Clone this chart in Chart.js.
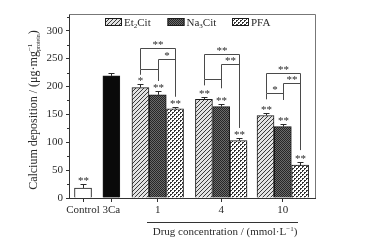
<!DOCTYPE html>
<html>
<head>
<meta charset="utf-8">
<script src="https://cdn.jsdelivr.net/npm/chart.js@4/dist/chart.umd.min.js"></script>
<style>
  html, body { margin: 0; padding: 0; background: #fff; }
  canvas { display: block; }
</style>
</head>
<body>
<canvas id="c" width="374" height="249"></canvas>
<script>
// x positions in bar-width units: Control, 3Ca, group 1, group 4, group 10
var xPos = [0.81, 2.45, 5.13, 8.8, 12.36];
var xLabels = ["Control", "3Ca", "1", "4", "10"];
var xMax = 14.22;

// single bars
var singleVals = [18, 219];
var singleErr = [8, 6];
var singleStars = ["**", ""];

// drug groups (mmol/L)
var groups = ["1", "4", "10"];
var et2cit = [198, 177, 148];
var et2citErr = [6, 5, 4];
var et2citStars = ["*", "**", "**"];
var na3cit = [185, 164, 128];
var na3citErr = [7, 5, 5];
var na3citStars = ["**", "**", "**"];
var pfa = [160, 103, 59];
var pfaErr = [4, 4, 5];
var pfaStars = ["**", "**", "**"];

var yTicks = [0, 50, 100, 150, 200, 250, 300];

// significance brackets: [group, fromSeries, toSeries, level, leftEnd, rightEnd, label]
var brackets = [
	[0, 0, 1, 231, 221, 210, ""],
	[0, 1, 2, 249, 210, 182, "*"],
	[0, 0, 2, 269, 231, 182, "**"],
	[1, 0, 1, 213, 202, 197, ""],
	[1, 1, 2, 241, 197, 126, "**"],
	[1, 0, 2, 258, 213, 126, "**"],
	[2, 0, 1, 188, 177, 176, "*"],
	[2, 1, 2, 207, 176, 86, "**"],
	[2, 0, 2, 224, 188, 86, "**"]
];

var SERIF = "'Liberation Serif', 'DejaVu Serif', serif";
var INK = "#2a2a2a";

function makePattern(kind) {
	var t = document.createElement("canvas");
	var g = t.getContext("2d");
	if (kind == "hatch") {
		t.width = 4; t.height = 4;
		g.fillStyle = "#e2e2e2"; g.fillRect(0, 0, 4, 4);
		g.strokeStyle = "#3a3a3a"; g.lineWidth = 1;
		g.beginPath();
		g.moveTo(-1, 5); g.lineTo(5, -1);
		g.moveTo(-1, 1); g.lineTo(1, -1);
		g.moveTo(3, 5); g.lineTo(5, 3);
		g.stroke();
	} else if (kind == "dark") {
		t.width = 2; t.height = 2;
		g.fillStyle = "#6a6a6a"; g.fillRect(0, 0, 2, 2);
		g.fillStyle = "#262626"; g.fillRect(0, 0, 1, 1); g.fillRect(1, 1, 1, 1);
	} else {
		t.width = 4; t.height = 4;
		g.fillStyle = "#ffffff"; g.fillRect(0, 0, 4, 4);
		g.fillStyle = "#333333";
		g.fillRect(0, 0, 1, 1); g.fillRect(2, 2, 1, 1);
		g.fillRect(1, 0, 1, 1); g.fillRect(0, 1, 1, 1);
		g.fillRect(3, 2, 1, 1); g.fillRect(2, 3, 1, 1);
	}
	return g.createPattern(t, "repeat");
}

var pats = [makePattern("hatch"), makePattern("dark"), makePattern("check")];
var seriesVals = [et2cit, na3cit, pfa];
var seriesErr = [et2citErr, na3citErr, pfaErr];
var seriesStars = [et2citStars, na3citStars, pfaStars];
var seriesNames = ["Et2Cit", "Na3Cit", "PFA"];

function groupX(g, s) { return xPos[2 + g] + (s - 1); }

var datasets = [
	{label: "Control", data: [{x: xPos[0], y: singleVals[0]}], backgroundColor: "#ffffff"},
	{label: "3Ca", data: [{x: xPos[1], y: singleVals[1]}], backgroundColor: "#0a0a0a"}
];
seriesVals.forEach((vals, s) => {
	datasets.push({
		label: seriesNames[s],
		data: vals.map((v, g) => ({x: groupX(g, s), y: v})),
		backgroundColor: pats[s]
	});
});
datasets.forEach(d => { d.borderColor = "#1a1a1a"; d.borderWidth = 1; d.barThickness = 17; d.grouped = false; });

// draw text with super/subscript parts: parts = [[text, size, dy, "stack"?], ...]
function drawRich(ctx, parts, x, y) {
	var cx = x, stackX = null, maxW = 0;
	parts.forEach(p => {
		ctx.font = p[1] + "px " + SERIF;
		var w = ctx.measureText(p[0]).width;
		if (p[3] == "stack") {
			if (stackX == null) { stackX = cx; maxW = 0; }
			ctx.fillText(p[0], stackX, y + p[2]);
			maxW = Math.max(maxW, w);
			cx = stackX + maxW;
		} else {
			stackX = null;
			ctx.fillText(p[0], cx, y + p[2]);
			cx += w;
		}
	});
	return cx - x;
}
function richWidth(parts) {
	var c = document.createElement("canvas").getContext("2d");
	return drawRich(c, parts, 0, 0);
}

var overlay = {
	id: "overlay",
	afterDatasetsDraw(chart) {
		var ctx = chart.ctx, xs = chart.scales.x, ys = chart.scales.y, ca = chart.chartArea;
		ctx.save();
		ctx.strokeStyle = "#2a2a2a";
		ctx.fillStyle = INK;
		ctx.lineWidth = 1;
		ctx.textAlign = "center";
		ctx.textBaseline = "alphabetic";

		function errBar(xv, v, e, star) {
			var x = Math.round(xs.getPixelForValue(xv)) + 0.5;
			var y1 = ys.getPixelForValue(v), y2 = Math.round(ys.getPixelForValue(v + e)) + 0.5;
			ctx.beginPath();
			ctx.moveTo(x, y1); ctx.lineTo(x, y2);
			ctx.moveTo(x - 3, y2); ctx.lineTo(x + 3, y2);
			ctx.stroke();
			if (star) {
				ctx.font = "11px " + SERIF;
				ctx.fillText(star, x, y2 - 0.5);
			}
		}
		singleVals.forEach((v, i) => errBar(xPos[i], v, singleErr[i], singleStars[i]));
		seriesVals.forEach((vals, s) => vals.forEach((v, g) => errBar(groupX(g, s), v, seriesErr[s][g], seriesStars[s][g])));

		// brackets
		ctx.strokeStyle = "#4a4a4a";
		brackets.forEach(b => {
			var xa = Math.round(xs.getPixelForValue(groupX(b[0], b[1]))) + 0.5;
			var xb = Math.round(xs.getPixelForValue(groupX(b[0], b[2]))) + 0.5;
			var yl = Math.round(ys.getPixelForValue(b[3])) + 0.5;
			ctx.beginPath();
			ctx.moveTo(xa, ys.getPixelForValue(b[4]));
			ctx.lineTo(xa, yl); ctx.lineTo(xb, yl);
			ctx.lineTo(xb, ys.getPixelForValue(b[5]));
			ctx.stroke();
			if (b[6]) {
				ctx.font = "11px " + SERIF;
				ctx.fillText(b[6], (xa + xb) / 2, yl - 0.5);
			}
		});

		// minor y ticks
		ctx.strokeStyle = "#333";
		for (var v = 25; v < 330; v += 50) {
			var y = Math.round(ys.getPixelForValue(v)) + 0.5;
			ctx.beginPath(); ctx.moveTo(ca.left - 2, y); ctx.lineTo(ca.left, y); ctx.stroke();
		}

		// frame top/right
		ctx.strokeStyle = "#777";
		ctx.beginPath();
		ctx.moveTo(Math.round(ca.left), Math.round(ca.top) + 0.5);
		ctx.lineTo(Math.round(ca.right) + 0.5, Math.round(ca.top) + 0.5);
		ctx.lineTo(Math.round(ca.right) + 0.5, Math.round(ca.bottom));
		ctx.stroke();

		// legend inside plot
		var legX = [105, 167.5, 232];
		var legY = 18;
		ctx.textAlign = "left";
		seriesNames.forEach((n, s) => {
			ctx.fillStyle = pats[s];
			ctx.fillRect(legX[s], legY, 17, 8);
			ctx.strokeStyle = "#1a1a1a";
			ctx.strokeRect(legX[s] + 0.5, legY + 0.5, 16, 7);
			ctx.fillStyle = INK;
			var tx = legX[s] + 19, ty = legY + 8;
			if (s < 2) {
				drawRich(ctx, [[n.slice(0, 2), 11, 0], [n.slice(2, 3), 7, 2], [n.slice(3), 11, 0]], tx, ty);
			} else {
				drawRich(ctx, [[n, 11, 0]], tx, ty);
			}
		});

		// x title with rule above
		var titleParts = [["Drug concentration / (mmol\u00b7L", 11, 0], ["\u22121", 7, -4], [")", 11, 0]];
		var tw = richWidth(titleParts);
		ctx.strokeStyle = "#333";
		ctx.beginPath(); ctx.moveTo(147, 222.5); ctx.lineTo(298, 222.5); ctx.stroke();
		drawRich(ctx, titleParts, 225 - tw / 2, 235);

		// y title rotated
		var yParts = [["Calcium deposition / (\u03bcg\u00b7mg", 12, 0], ["\u22121", 7, -5, "stack"], ["protein", 6, 3, "stack"], [")", 12, 0]];
		var yw = richWidth(yParts);
		ctx.translate(37, 110);
		ctx.rotate(-Math.PI / 2);
		drawRich(ctx, yParts, -yw / 2, 0);
		ctx.restore();
	}
};

new Chart(document.getElementById("c"), {
	type: "bar",
	data: {datasets: datasets},
	options: {
		responsive: false,
		devicePixelRatio: 1,
		animation: false,
		layout: {padding: {top: 14, right: 59, left: 0, bottom: 0}},
		plugins: {legend: {display: false}, tooltip: {enabled: false}},
		scales: {
			x: {
				type: "linear", min: 0, max: xMax, offset: false,
				afterBuildTicks: s => { s.ticks = xPos.map(v => ({value: v})); },
				afterFit: s => { s.height = 51; },
				ticks: {
					autoSkip: false, maxRotation: 0, padding: 2, color: INK,
					font: {family: SERIF, size: 11},
					callback: (v, i) => xLabels[i]
				},
				grid: {drawOnChartArea: false, tickLength: 4, color: "#333", offset: false},
				border: {color: "#333"}
			},
			y: {
				min: 0, max: 330,
				afterBuildTicks: s => { s.ticks = yTicks.map(v => ({value: v})); },
				afterFit: s => { s.width = 69; },
				ticks: {padding: 3, color: INK, font: {family: SERIF, size: 11}},
				grid: {drawOnChartArea: false, tickLength: 3, color: "#333"},
				border: {color: "#333"}
			}
		}
	},
	plugins: [overlay]
});
</script>
</body>
</html>
